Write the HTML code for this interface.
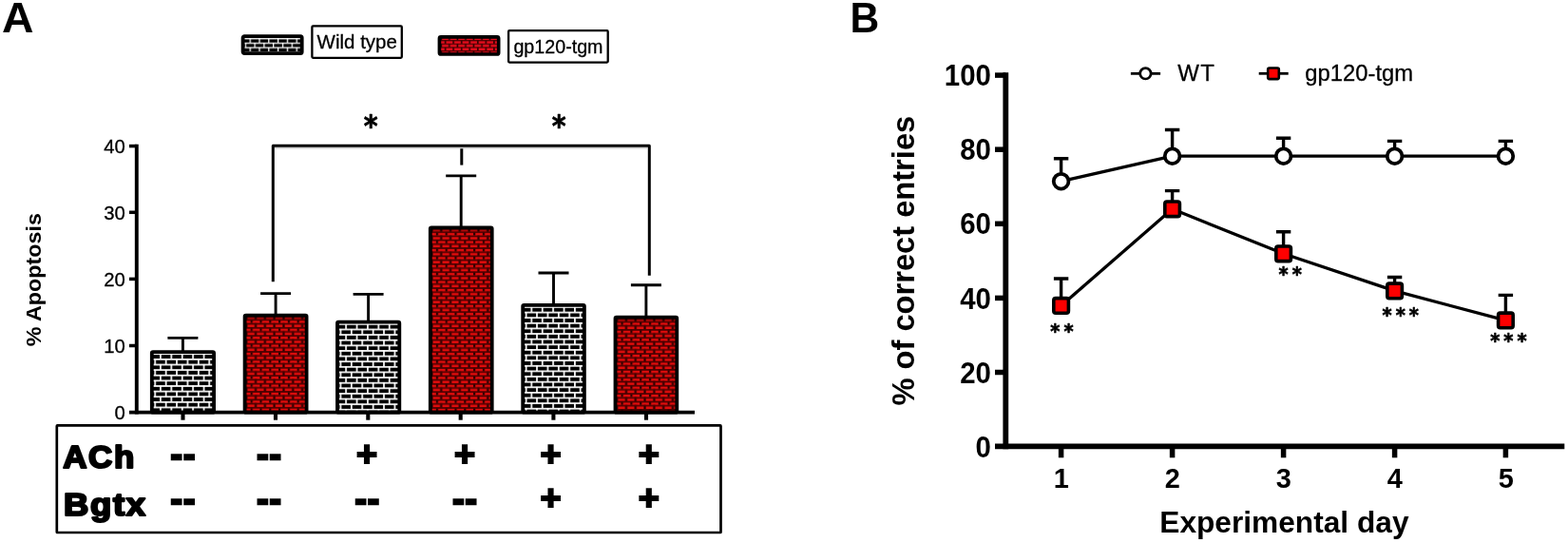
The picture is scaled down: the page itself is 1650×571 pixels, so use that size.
<!DOCTYPE html>
<html lang="en">
<head>
<meta charset="utf-8">
<title>Figure: Apoptosis and correct entries</title>
<style>
html,body{margin:0;padding:0;background:#fff;}
body{width:1650px;height:571px;overflow:hidden;}
svg{display:block;position:absolute;left:0;top:0;}
text{font-family:"Liberation Sans",Arial,Helvetica,sans-serif;fill:#000;}
.b{font-weight:bold;}
.r{stroke:#000;stroke-width:0.3px;}
text.st{font-family:"DejaVu Sans","Liberation Sans",sans-serif;}
.hv{font-weight:bold;stroke:#000;stroke-linejoin:miter;}
.hr{font-weight:bold;stroke:#000;stroke-linejoin:round;}
</style>
</head>
<body>
<svg width="1650" height="571" viewBox="0 0 1650 571">
<defs>
<pattern id="brickK" patternUnits="userSpaceOnUse" x="9.180" y="2.200" width="11.4" height="11.24">
<rect x="0" y="0" width="11.4" height="11.24" fill="#000"/>
<rect x="1.000" y="1.000" width="1.7" height="5.620" fill="#fff"/>
<rect x="6.700" y="6.620" width="1.7" height="4.620" fill="#fff"/>
<rect x="6.700" y="0" width="1.7" height="1.850" fill="#fff"/>
<rect x="-4.700" y="6.620" width="1.7" height="4.620" fill="#fff"/>
<rect x="-4.700" y="0" width="1.7" height="1.850" fill="#fff"/>
<rect x="0" y="1.000" width="11.4" height="1.7" fill="#fff"/>
<rect x="0" y="6.620" width="11.4" height="1.7" fill="#fff"/>
</pattern>
<pattern id="brickR" patternUnits="userSpaceOnUse" x="6.950" y="4.850" width="9.8" height="8.4">
<rect x="0" y="0" width="9.8" height="8.4" fill="#e20c0c"/>
<rect x="1.000" y="1.000" width="2.2" height="4.200" fill="#280000"/>
<rect x="5.300" y="5.200" width="2.2" height="3.200" fill="#280000"/>
<rect x="5.300" y="0" width="2.2" height="1.850" fill="#280000"/>
<rect x="-4.500" y="5.200" width="2.2" height="3.200" fill="#280000"/>
<rect x="-4.500" y="0" width="2.2" height="1.850" fill="#280000"/>
<rect x="0" y="1.000" width="9.8" height="1.7" fill="#4c0000"/>
<rect x="0" y="5.200" width="9.8" height="1.7" fill="#4c0000"/>
</pattern>
<pattern id="brickKL" patternUnits="userSpaceOnUse" x="7.880" y="2.690" width="9.8" height="9.5">
<rect x="0" y="0" width="9.8" height="9.5" fill="#000"/>
<rect x="1.000" y="1.000" width="1.3" height="4.750" fill="#fff"/>
<rect x="5.900" y="5.750" width="1.3" height="3.750" fill="#fff"/>
<rect x="5.900" y="0" width="1.3" height="1.650" fill="#fff"/>
<rect x="-3.900" y="5.750" width="1.3" height="3.750" fill="#fff"/>
<rect x="-3.900" y="0" width="1.3" height="1.650" fill="#fff"/>
<rect x="0" y="1.000" width="9.8" height="1.3" fill="#fff"/>
<rect x="0" y="5.750" width="9.8" height="1.3" fill="#fff"/>
</pattern>
<pattern id="brickRL" patternUnits="userSpaceOnUse" x="6.200" y="4.000" width="8.55" height="7.28">
<rect x="0" y="0" width="8.55" height="7.28" fill="#e60c1c"/>
<rect x="1.000" y="1.000" width="1.6" height="3.640" fill="#2a0000"/>
<rect x="5.275" y="4.640" width="1.6" height="2.640" fill="#2a0000"/>
<rect x="5.275" y="0" width="1.6" height="1.600" fill="#2a0000"/>
<rect x="-3.275" y="4.640" width="1.6" height="2.640" fill="#2a0000"/>
<rect x="-3.275" y="0" width="1.6" height="1.600" fill="#2a0000"/>
<rect x="0" y="1.000" width="8.55" height="1.2" fill="#4a0000"/>
<rect x="0" y="4.640" width="8.55" height="1.2" fill="#4a0000"/>
</pattern>
</defs>
<rect x="0" y="0" width="1650" height="571" fill="#fff"/>

<g id="panelA">
<text class="b" transform="translate(2 34) scale(1.055 1)" font-size="44">A</text>
<g transform="translate(253.7 36.3)"><rect x="1.9" y="1.9" width="62.1" height="17.9" rx="1.6" fill="url(#brickKL)" stroke="#000" stroke-width="3.8"/></g>
<rect x="328.4" y="27.4" width="94.4" height="33.4" rx="1" fill="#fff" stroke="#000" stroke-width="2.3"/>
<text class="r" x="333.6" y="50.7" font-size="20.5">Wild type</text>
<g transform="translate(460.6 37.1)"><rect x="1.8" y="1.8" width="62.3" height="18.1" rx="1.6" fill="url(#brickRL)" stroke="#000" stroke-width="3.6"/></g>
<rect x="535.1" y="32.2" width="104.6" height="33.4" rx="1" fill="#fff" stroke="#000" stroke-width="2.3"/>
<text class="r" x="540.4" y="56" font-size="19.7">gp120-tgm</text>
<text class="st b" transform="translate(390.1 143.2) scale(0.9 1)" font-size="31.6" text-anchor="middle" stroke="#000" stroke-width="0.7" stroke-linejoin="round">*</text>
<text class="st b" transform="translate(588.1 143.2) scale(0.9 1)" font-size="31.6" text-anchor="middle" stroke="#000" stroke-width="0.7" stroke-linejoin="round">*</text>
<path d="M289 155.7 H681.5" fill="none" stroke="#cfcfcf" stroke-width="1.6"/>
<path d="M287.3 296.3 V153.2 H683.3 V289.7" fill="none" stroke="#000" stroke-width="3" stroke-linejoin="round"/>
<path d="M485.8 156.3 V173.6" fill="none" stroke="#000" stroke-width="3"/>
<path d="M176.4 355.4 H208.4 M192.4 355.4 V369.2" fill="none" stroke="#000" stroke-width="2.9"/>
<g transform="translate(157.90 368.20)"><rect x="1.90" y="1.90" width="65.30" height="63.60" rx="1.2" fill="url(#brickK)" stroke="#000" stroke-width="3.8"/></g>
<path d="M274.1 308.6 H306.1 M290.1 308.6 V330.7" fill="none" stroke="#000" stroke-width="2.9"/>
<g transform="translate(255.70 329.70)"><rect x="1.90" y="1.90" width="65.00" height="102.10" rx="1.2" fill="url(#brickR)" stroke="#000" stroke-width="3.8"/><rect x="3.80" y="3.80" width="61.20" height="1.1" fill="#000" opacity="0.55"/></g>
<path d="M371.6 309.4 H403.6 M387.6 309.4 V337.8" fill="none" stroke="#000" stroke-width="2.9"/>
<g transform="translate(353.10 336.80)"><rect x="1.90" y="1.90" width="65.30" height="95.00" rx="1.2" fill="url(#brickK)" stroke="#000" stroke-width="3.8"/></g>
<path d="M469.2 184.9 H501.2 M485.2 184.9 V238.5" fill="none" stroke="#000" stroke-width="2.9"/>
<g transform="translate(450.90 237.50)"><rect x="1.90" y="1.90" width="64.90" height="194.30" rx="1.2" fill="url(#brickR)" stroke="#000" stroke-width="3.8"/><rect x="3.80" y="3.80" width="61.10" height="1.1" fill="#000" opacity="0.55"/></g>
<path d="M566.5 287.0 H598.5 M582.5 287.0 V319.9" fill="none" stroke="#000" stroke-width="2.9"/>
<g transform="translate(548.30 318.90)"><rect x="1.90" y="1.90" width="64.70" height="112.90" rx="1.2" fill="url(#brickK)" stroke="#000" stroke-width="3.8"/></g>
<path d="M663.9 299.7 H695.9 M679.9 299.7 V332.8" fill="none" stroke="#000" stroke-width="2.9"/>
<g transform="translate(645.60 331.80)"><rect x="1.90" y="1.90" width="64.80" height="100.00" rx="1.2" fill="url(#brickR)" stroke="#000" stroke-width="3.8"/><rect x="3.80" y="3.80" width="61.00" height="1.1" fill="#000" opacity="0.55"/></g>
<path d="M143.8 151.8 V435.6" stroke="#000" stroke-width="3.9" fill="none"/>
<path d="M136 433.7 H731" stroke="#000" stroke-width="3.8" fill="none"/>
<path d="M136 153.6 H143.8" stroke="#000" stroke-width="3.5" fill="none"/>
<text class="r" x="131.8" y="160.9" font-size="20.3" text-anchor="end">40</text>
<path d="M136 223.3 H143.8" stroke="#000" stroke-width="3.5" fill="none"/>
<text class="r" x="131.8" y="230.6" font-size="20.3" text-anchor="end">30</text>
<path d="M136 293.4 H143.8" stroke="#000" stroke-width="3.5" fill="none"/>
<text class="r" x="131.8" y="300.7" font-size="20.3" text-anchor="end">20</text>
<path d="M136 363.5 H143.8" stroke="#000" stroke-width="3.5" fill="none"/>
<text class="r" x="131.8" y="370.8" font-size="20.3" text-anchor="end">10</text>
<text class="r" x="131.8" y="441.0" font-size="20.3" text-anchor="end">0</text>
<path d="M192.5 433.7 V441.7" stroke="#000" stroke-width="4.1" fill="none"/>
<path d="M290 433.7 V441.7" stroke="#000" stroke-width="4.1" fill="none"/>
<path d="M387.3 433.7 V441.7" stroke="#000" stroke-width="4.1" fill="none"/>
<path d="M484.7 433.7 V441.7" stroke="#000" stroke-width="4.1" fill="none"/>
<path d="M582.4 433.7 V441.7" stroke="#000" stroke-width="4.1" fill="none"/>
<path d="M680 433.7 V441.7" stroke="#000" stroke-width="4.1" fill="none"/>
<text class="b" transform="translate(42.6 364.3) rotate(-90)" font-size="22.9" textLength="140.2" lengthAdjust="spacingAndGlyphs">% Apoptosis</text>
<rect x="59.8" y="447.4" width="698.7" height="112.6" rx="0.6" fill="#fff" stroke="#000" stroke-width="2.7"/>
<text class="hr" transform="translate(66.2 491.5) scale(1.06 1)" font-size="33" stroke-width="2.2" letter-spacing="1.5">ACh</text>
<text class="hr" transform="translate(67.1 541.75) scale(1.103 1)" font-size="33" stroke-width="2.2" letter-spacing="1.5">Bgtx</text>
<text class="hv" x="179.60" y="490.20" font-size="37" stroke-width="2.4" letter-spacing="1">--</text>
<text class="hv" x="179.60" y="537.10" font-size="37" stroke-width="2.4" letter-spacing="1">--</text>
<text class="hv" x="270.20" y="490.20" font-size="37" stroke-width="2.4" letter-spacing="1">--</text>
<text class="hv" x="270.20" y="537.10" font-size="37" stroke-width="2.4" letter-spacing="1">--</text>
<text class="hv" x="386" y="489.67" font-size="37.8" stroke-width="2" text-anchor="middle">+</text>
<text class="hv" x="373.40" y="537.10" font-size="37" stroke-width="2.4" letter-spacing="1">--</text>
<text class="hv" x="489.1" y="489.67" font-size="37.8" stroke-width="2" text-anchor="middle">+</text>
<text class="hv" x="476.30" y="537.10" font-size="37" stroke-width="2.4" letter-spacing="1">--</text>
<text class="hv" x="579.6" y="489.67" font-size="37.8" stroke-width="2" text-anchor="middle">+</text>
<text class="hv" x="579.6" y="536.17" font-size="37.8" stroke-width="2" text-anchor="middle">+</text>
<text class="hv" x="682.8" y="489.67" font-size="37.8" stroke-width="2" text-anchor="middle">+</text>
<text class="hv" x="682.8" y="536.17" font-size="37.8" stroke-width="2" text-anchor="middle">+</text>
</g>
<g id="panelB">
<text class="b" transform="translate(894.45 34.1) scale(0.945 1)" font-size="45">B</text>
<path d="M1058.3 76.2 V472.3" stroke="#000" stroke-width="5.8" fill="none"/>
<path d="M1047 469.45 H1646.3" stroke="#000" stroke-width="5.8" fill="none"/>
<path d="M1047 79.10 H1058.3" stroke="#000" stroke-width="5.5" fill="none"/>
<text class="b" transform="translate(1042.9 90.2) scale(0.92 1)" font-size="32" text-anchor="end">100</text>
<path d="M1047 157.20 H1058.3" stroke="#000" stroke-width="5.5" fill="none"/>
<text class="b" transform="translate(1042.9 168.4) scale(0.92 1)" font-size="32" text-anchor="end">80</text>
<path d="M1047 235.30 H1058.3" stroke="#000" stroke-width="5.5" fill="none"/>
<text class="b" transform="translate(1042.9 246.4) scale(0.92 1)" font-size="32" text-anchor="end">60</text>
<path d="M1047 313.40 H1058.3" stroke="#000" stroke-width="5.5" fill="none"/>
<text class="b" transform="translate(1042.9 324.6) scale(0.92 1)" font-size="32" text-anchor="end">40</text>
<path d="M1047 391.50 H1058.3" stroke="#000" stroke-width="5.5" fill="none"/>
<text class="b" transform="translate(1042.9 402.7) scale(0.92 1)" font-size="32" text-anchor="end">20</text>
<text class="b" transform="translate(1042.9 480.8) scale(0.92 1)" font-size="32" text-anchor="end">0</text>
<path d="M1116.6 469.6 V481.3" stroke="#000" stroke-width="5.5" fill="none"/>
<text class="b" transform="translate(1116.9 512.9) scale(0.953 1)" font-size="30.4" text-anchor="middle">1</text>
<path d="M1233.6 469.6 V481.3" stroke="#000" stroke-width="5.5" fill="none"/>
<text class="b" transform="translate(1233.9 512.9) scale(0.953 1)" font-size="30.4" text-anchor="middle">2</text>
<path d="M1350.6 469.6 V481.3" stroke="#000" stroke-width="5.5" fill="none"/>
<text class="b" transform="translate(1350.9 512.9) scale(0.953 1)" font-size="30.4" text-anchor="middle">3</text>
<path d="M1467.6 469.6 V481.3" stroke="#000" stroke-width="5.5" fill="none"/>
<text class="b" transform="translate(1467.9 512.9) scale(0.953 1)" font-size="30.4" text-anchor="middle">4</text>
<path d="M1584.4 469.6 V481.3" stroke="#000" stroke-width="5.5" fill="none"/>
<text class="b" transform="translate(1584.7 512.9) scale(0.953 1)" font-size="30.4" text-anchor="middle">5</text>
<text class="b" x="1351.4" y="559.8" font-size="31" text-anchor="middle" textLength="262.2" lengthAdjust="spacingAndGlyphs">Experimental day</text>
<text class="b" transform="translate(961.8 426.6) rotate(-90)" font-size="32.4" textLength="304.8" lengthAdjust="spacingAndGlyphs">% of correct entries</text>
<path d="M1189.9 77.3 H1221.1" stroke="#000" stroke-width="2.8" fill="none"/>
<circle cx="1205.4" cy="77.3" r="5.7" fill="#fff" stroke="#000" stroke-width="2.7"/>
<text class="r" x="1239.2" y="85.4" font-size="24" letter-spacing="1.4">WT</text>
<path d="M1324.7 77.3 H1355.7" stroke="#000" stroke-width="2.8" fill="none"/>
<rect x="1334.2" y="71.5" width="11.6" height="11.6" rx="1.5" fill="#fe0000" stroke="#000" stroke-width="2.6"/>
<text class="r" x="1373.3" y="85.4" font-size="23.8">gp120-tgm</text>
<path d="M1116.6 190.7 L1233.6 164.2 L1350.6 164.2 L1467.6 164.2 L1584.4 164.2" fill="none" stroke="#000" stroke-width="3.3" stroke-linejoin="round"/>
<path d="M1108.9 166.8 H1124.3 M1116.6 166.8 V190.7" fill="none" stroke="#000" stroke-width="3.4"/>
<path d="M1225.9 136.5 H1241.3 M1233.6 136.5 V164.2" fill="none" stroke="#000" stroke-width="3.4"/>
<path d="M1342.9 145.3 H1358.3 M1350.6 145.3 V164.2" fill="none" stroke="#000" stroke-width="3.4"/>
<path d="M1459.9 148.4 H1475.3 M1467.6 148.4 V164.2" fill="none" stroke="#000" stroke-width="3.4"/>
<path d="M1576.7 148.4 H1592.1 M1584.4 148.4 V164.2" fill="none" stroke="#000" stroke-width="3.4"/>
<path d="M1116.6 321.4 L1233.6 219.8 L1350.6 266.8 L1467.6 305.9 L1584.4 336.9" fill="none" stroke="#000" stroke-width="3.3" stroke-linejoin="round"/>
<path d="M1108.9 293.0 H1124.3 M1116.6 293.0 V321.4" fill="none" stroke="#000" stroke-width="3.4"/>
<path d="M1225.9 200.6 H1241.3 M1233.6 200.6 V219.8" fill="none" stroke="#000" stroke-width="3.4"/>
<path d="M1342.9 243.8 H1358.3 M1350.6 243.8 V266.8" fill="none" stroke="#000" stroke-width="3.4"/>
<path d="M1459.9 291.5 H1475.3 M1467.6 291.5 V305.9" fill="none" stroke="#000" stroke-width="3.4"/>
<path d="M1576.7 310.4 H1592.1 M1584.4 310.4 V336.9" fill="none" stroke="#000" stroke-width="3.4"/>
<circle cx="1116.6" cy="190.7" r="7.85" fill="#fff" stroke="#000" stroke-width="3.8"/>
<circle cx="1233.6" cy="164.2" r="7.85" fill="#fff" stroke="#000" stroke-width="3.8"/>
<circle cx="1350.6" cy="164.2" r="7.85" fill="#fff" stroke="#000" stroke-width="3.8"/>
<circle cx="1467.6" cy="164.2" r="7.85" fill="#fff" stroke="#000" stroke-width="3.8"/>
<circle cx="1584.4" cy="164.2" r="7.85" fill="#fff" stroke="#000" stroke-width="3.8"/>
<rect x="1108.80" y="313.60" width="15.6" height="15.6" rx="2.1" fill="#fe0000" stroke="#000" stroke-width="3.6"/>
<rect x="1225.80" y="212.00" width="15.6" height="15.6" rx="2.1" fill="#fe0000" stroke="#000" stroke-width="3.6"/>
<rect x="1342.80" y="259.00" width="15.6" height="15.6" rx="2.1" fill="#fe0000" stroke="#000" stroke-width="3.6"/>
<rect x="1459.80" y="298.10" width="15.6" height="15.6" rx="2.1" fill="#fe0000" stroke="#000" stroke-width="3.6"/>
<rect x="1576.60" y="329.10" width="15.6" height="15.6" rx="2.1" fill="#fe0000" stroke="#000" stroke-width="3.6"/>
<text class="st b" transform="translate(1105.24 355.52) scale(0.88 1)" font-size="22.0" letter-spacing="4.63" stroke="#000" stroke-width="0.7" stroke-linejoin="round">**</text>
<text class="st b" transform="translate(1345.44 295.72) scale(0.88 1)" font-size="22.0" letter-spacing="4.63" stroke="#000" stroke-width="0.7" stroke-linejoin="round">**</text>
<text class="st b" transform="translate(1454.44 339.42) scale(0.88 1)" font-size="22.0" letter-spacing="4.63" stroke="#000" stroke-width="0.7" stroke-linejoin="round">***</text>
<text class="st b" transform="translate(1568.14 366.12) scale(0.88 1)" font-size="22.0" letter-spacing="4.63" stroke="#000" stroke-width="0.7" stroke-linejoin="round">***</text>
</g>
</svg>
</body>
</html>
